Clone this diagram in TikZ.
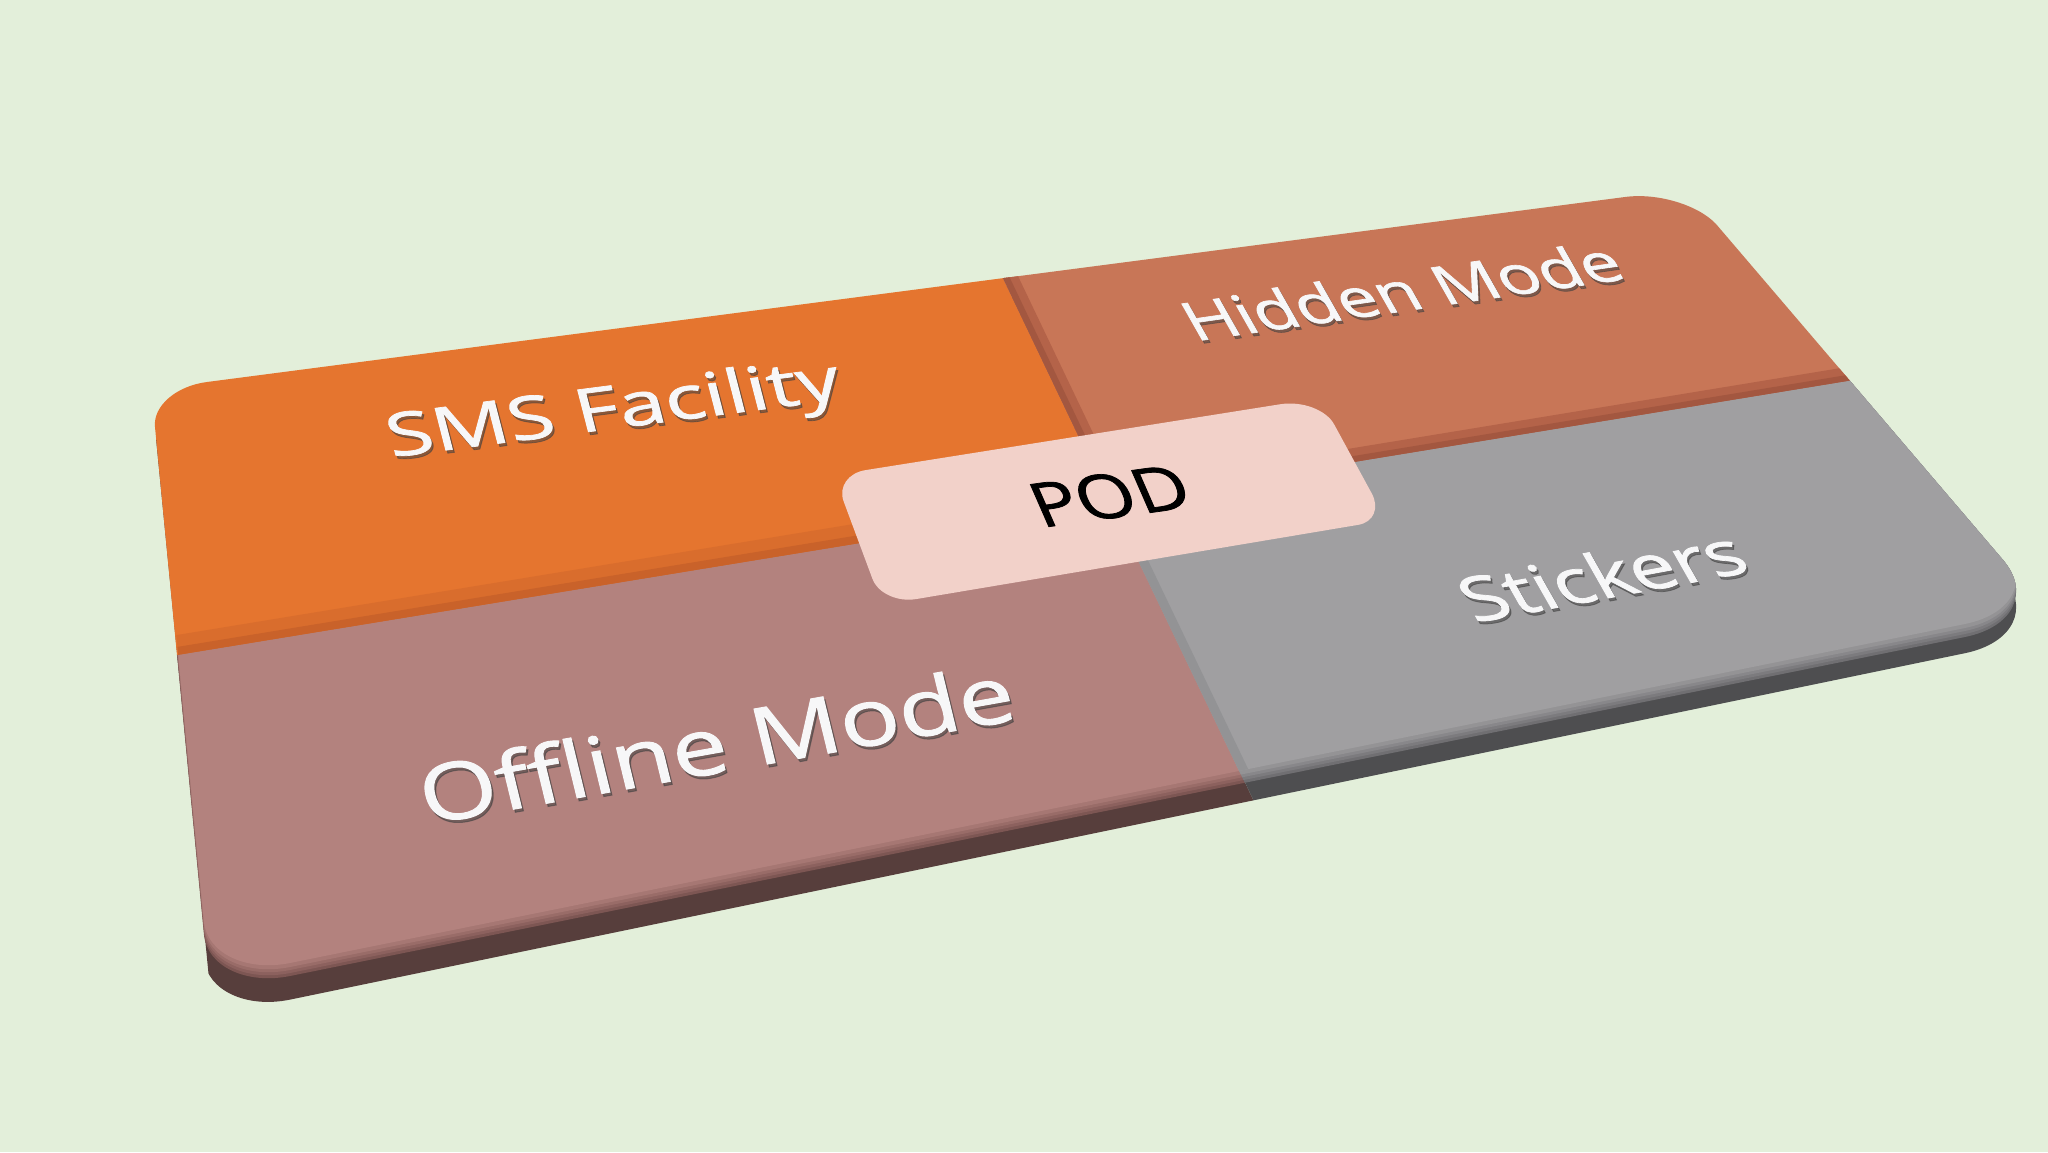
\documentclass[tikz,border=0pt]{standalone}
\usepackage{fontspec}
\setmainfont{Open Sans}
\newfontfamily\lblfont[FakeBold=1.2]{Open Sans}
\definecolor{bgc}{HTML}{E3EFDA}
\definecolor{smsc}{HTML}{E5752F}
\definecolor{smsbev}{HTML}{D96D2D}
\definecolor{smsbevd}{HTML}{C9622A}
\definecolor{hidc}{HTML}{C87657}
\definecolor{hidbev}{HTML}{B46349}
\definecolor{hidbevd}{HTML}{A35740}
\definecolor{offc}{HTML}{B3827E}
\definecolor{offb1}{HTML}{A67773}
\definecolor{offb2}{HTML}{996C68}
\definecolor{offb3}{HTML}{8C615E}
\definecolor{offb4}{HTML}{7D5653}
\definecolor{offside}{HTML}{573E3C}
\definecolor{stc}{HTML}{A09FA1}
\definecolor{stb1}{HTML}{949395}
\definecolor{stb2}{HTML}{88878A}
\definecolor{stb3}{HTML}{7C7B7E}
\definecolor{stb4}{HTML}{706F72}
\definecolor{stside}{HTML}{4E4E50}
\definecolor{stedge}{HTML}{939395}
\definecolor{podc}{HTML}{F2D1C9}
\definecolor{txtc}{HTML}{F7F7F8}

\newcommand\boardsurf{(207,382) -- (1625,197) .. controls (1656.9,192.6) and (1697.8,204.7) .. (1716,224) -- (2003,560) .. controls (2030.5,592.5) and (2013.4,627.1) .. (1965,637) -- (290,976) .. controls (246,984.8) and (207.3,966.4) .. (204,935) -- (155,427) .. controls (152.8,406.1) and (176.2,385.9) .. (207,382) -- cycle}
\newcommand\podpath{(865.6,470.1) -- (1280.5,404.2) .. controls (1302.2,400.8) and (1326.4,409.9) .. (1334.2,424.5) -- (1371.8,493.5) .. controls (1379.6,508.1) and (1373.6,522.2) .. (1358.4,524.8) -- (916.5,599) .. controls (897.5,602.3) and (877.7,593.2) .. (872.4,578.7) -- (843.6,501.3) .. controls (838.3,486.8) and (848.2,472.8) .. (865.6,470.1) -- cycle}
\newcommand\regSMS{(0,0) -- (870,0) -- (1110,502) -- (0,684) -- cycle}
\newcommand\regHid{(870,0) -- (2048,0) -- (2048,348) -- (1110,502) -- cycle}
\newcommand\regOff{(0,684) -- (1110,502) -- (1422,1152) -- (0,1152) -- cycle}
\newcommand\regSt{(1110,502) -- (2048,348) -- (2048,1152) -- (1422,1152) -- cycle}

\tikzset{
  lbl/.style={text=txtc, anchor=base, inner sep=0pt},
  lblsh/.style={text=black!75, opacity=0.55, anchor=base, inner sep=0pt},
  podlbl/.style={text=black, anchor=base, inner sep=0pt},
  sidecm/.style={cm={1,0.00444,0,1,(0,24.9)}},
}

\begin{document}
\begin{tikzpicture}[x=1pt,y=-1pt]
\useasboundingbox (0,0) rectangle (2048,1152);
\fill[bgc] (0,0) rectangle (2048,1152);

% side (thickness)
\begin{scope}
  \clip (113,0) -- (2048,0) -- (2048,1152) -- (226,1152) -- cycle;
  \begin{scope}
    \clip (0,0) -- (870,0) -- (1422,1152) -- (0,1152) -- cycle;
    \fill[offside, sidecm] \boardsurf;
  \end{scope}
  \begin{scope}
    \clip (870,0) -- (2048,0) -- (2048,1152) -- (1422,1152) -- cycle;
    \fill[stside, sidecm] \boardsurf;
  \end{scope}
\end{scope}

% top surface with tiles
\begin{scope}
  \clip \boardsurf;
  \fill[offb4] \regOff;
  \fill[stb4] \regSt;
  \fill[smsc] \regSMS;
  \fill[hidc] \regHid;
  \begin{scope}
    \clip[shift={(0,-3)}] \boardsurf;
    \fill[offb3] \regOff;
    \fill[stb3] \regSt;
  \begin{scope}
    \clip[shift={(0,-6)}] \boardsurf;
    \fill[offb2] \regOff;
    \fill[stb2] \regSt;
  \begin{scope}
    \clip[shift={(0,-9)}] \boardsurf;
    \fill[offb1] \regOff;
    \fill[stb1] \regSt;
    \begin{scope}
      \clip[shift={(0,-13)}] \boardsurf;
      \fill[offc] \regOff;
      \fill[stc] \regSt;
      % internal bevels
      \fill[smsbev] (0,664) -- (1110,482) -- (1110,502) -- (0,684) -- cycle;
      \fill[smsbevd] (0,676) -- (1110,494) -- (1110,502) -- (0,684) -- cycle;
      \fill[hidbev] (1110,488) -- (2048,334) -- (2048,348) -- (1110,502) -- cycle;
      \fill[hidbevd] (1110,496) -- (2048,342) -- (2048,348) -- (1110,502) -- cycle;
      \fill[hidbev] (870,0) -- (886,0) -- (1126,502) -- (1110,502) -- cycle;
      \fill[hidbevd] (870,0) -- (877,0) -- (1117,502) -- (1110,502) -- cycle;
      \fill[stedge] (1110,502) -- (1120,502) -- (1432,1152) -- (1422,1152) -- cycle;
    \end{scope}
  \end{scope}
  \end{scope}
  \end{scope}
\end{scope}

% POD key
\fill[podc] \podpath;

% labels
\node[lblsh, font=\lblfont\fontsize{84}{100}\selectfont, cm={0.992,0.128,-0.18,0.70,(0,0)}] (smsS) at (620,431) {SMS Facility};
\node[lbl, font=\lblfont\fontsize{84}{100}\selectfont, cm={0.992,0.128,-0.18,0.70,(0,0)}] (sms) at (618,428) {SMS Facility};

\node[lblsh, font=\lblfont\fontsize{69}{82}\selectfont, cm={0.990,0.143,-0.42,0.74,(0,0)}] (hidS) at (1414,313) {Hidden Mode};
\node[lbl, font=\lblfont\fontsize{69}{82}\selectfont, cm={0.990,0.143,-0.42,0.74,(0,0)}] (hid) at (1412,310) {Hidden Mode};

\node[lblsh, font=\lblfont\fontsize{99}{118}\selectfont, cm={0.984,0.175,-0.19,0.78,(0,0)}] (offS) at (725,775) {Offline Mode};
\node[lbl, font=\lblfont\fontsize{99}{118}\selectfont, cm={0.984,0.175,-0.19,0.78,(0,0)}] (off) at (723,772) {Offline Mode};

\node[lblsh, font=\lblfont\fontsize{79}{94}\selectfont, cm={0.983,0.182,-0.42,0.74,(0,0)}] (stS) at (1616,600) {Stickers};
\node[lbl, font=\lblfont\fontsize{79}{94}\selectfont, cm={0.983,0.182,-0.42,0.74,(0,0)}] (st) at (1614,597) {Stickers};

\node[podlbl, font=\lblfont\fontsize{74}{88}\selectfont, cm={0.990,0.137,-0.35,0.80,(0,0)}] (pod) at (1119,517) {POD};
\end{tikzpicture}
\end{document}
